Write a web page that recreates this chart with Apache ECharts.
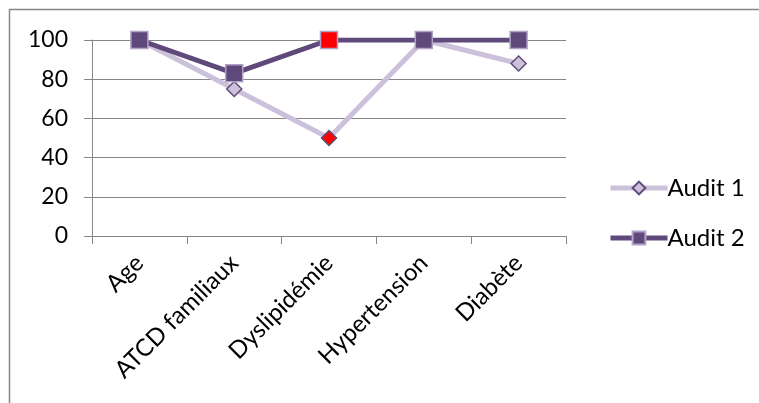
<!DOCTYPE html>
<html>
<head>
<meta charset="utf-8">
<script src="https://cdn.jsdelivr.net/npm/echarts@6/dist/echarts.min.js"></script>
<style>
  html, body { margin: 0; padding: 0; background: #fff; }
  #chart { width: 759px; height: 403px; }
</style>
</head>
<body>
<div id="chart"></div>
<script>
// Risk factors compared across two audits (%)
var categories = ['Age', 'ATCD familiaux', 'Dyslipidémie', 'Hypertension', 'Diabète'];
var audit1 = [100, 75, 50, 100, 88];
var audit2 = [100, 83, 100, 100, 100];
var yTicks = { min: 0, max: 100, interval: 20 };
// index of the highlighted category (drawn with a red marker)
var highlightIndex = 2;

var FONT = 'Lato';
var light = '#CCC1DA';
var dark = '#5F497A';

function withHighlight(values, border) {
  return values.map(function (v, i) {
    if (i === highlightIndex) {
      return { value: v, itemStyle: { color: '#FF0000', borderColor: border } };
    }
    return v;
  });
}

var chart = echarts.init(document.getElementById('chart'), null, { renderer: 'canvas' });
chart.setOption({
  animation: false,
  backgroundColor: '#fff',
  textStyle: { fontFamily: FONT },
  graphic: [{
    type: 'rect',
    shape: { x: 9.5, y: 9.5, width: 800, height: 420 },
    style: { fill: 'none', stroke: '#868686', lineWidth: 1.5 },
    silent: true, z: -1
  }],
  grid: { left: 92, right: 193, top: 40, bottom: 167, containLabel: false },
  legend: {
    orient: 'vertical',
    left: 603,
    top: 171,
    itemWidth: 57,
    itemHeight: 16,
    itemGap: 26,
    textStyle: { fontFamily: FONT, fontSize: 24, color: '#000', padding: [0, 0, 0, -5] },
    data: [
      { name: 'Audit 1', lineStyle: { width: 5 } },
      { name: 'Audit 2', lineStyle: { width: 5 } }
    ]
  },
  xAxis: {
    type: 'category',
    data: categories,
    boundaryGap: true,
    axisLine: { lineStyle: { color: '#868686', width: 1 } },
    axisTick: { show: true, length: 8, alignWithLabel: false, lineStyle: { color: '#868686' } },
    axisLabel: { rotate: 45, fontFamily: FONT, fontSize: 24, color: '#000', margin: 23, interval: 0 }
  },
  yAxis: {
    type: 'value',
    min: yTicks.min, max: yTicks.max, interval: yTicks.interval,
    axisLine: { show: true, lineStyle: { color: '#868686', width: 1 } },
    axisTick: { show: true, length: 8, lineStyle: { color: '#868686' } },
    axisLabel: { fontFamily: FONT, fontSize: 23, color: '#000', margin: 24 },
    splitLine: { lineStyle: { color: '#868686', width: 1 } }
  },
  series: [{
    name: 'Audit 1',
    type: 'line',
    data: withHighlight(audit1, '#604A7B'),
    symbol: 'diamond',
    symbolSize: 15,
    lineStyle: { color: light, width: 5 },
    itemStyle: { color: light, borderColor: '#604A7B', borderWidth: 1.5 }
  }, {
    name: 'Audit 2',
    type: 'line',
    data: withHighlight(audit2, '#B3A2C7'),
    symbol: 'rect',
    symbolSize: 17,
    lineStyle: { color: dark, width: 5 },
    itemStyle: { color: dark, borderColor: '#B3A2C7', borderWidth: 1.5 }
  }]
});
</script>
</body>
</html>
